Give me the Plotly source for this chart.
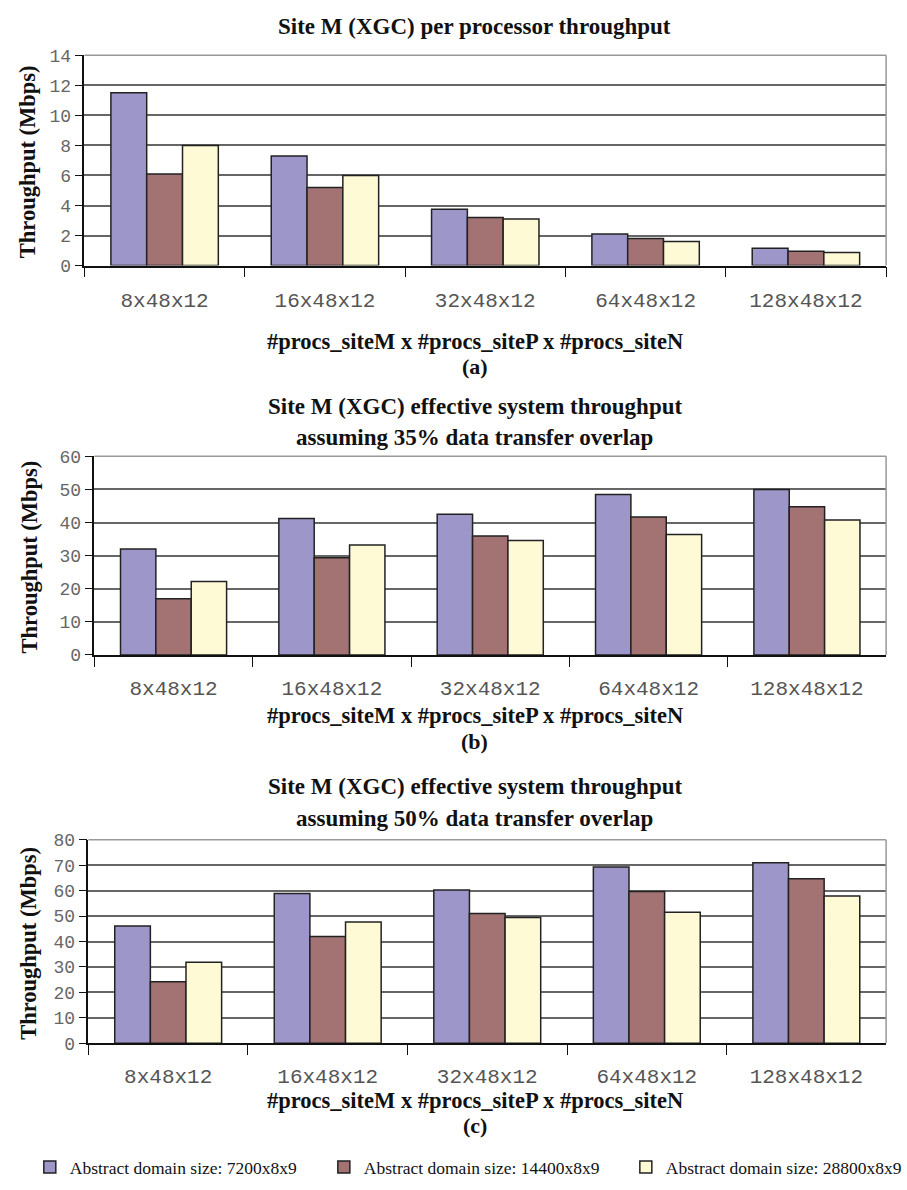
import plotly.graph_objects as go

# Processor layouts (siteM x siteP x siteN)
categories = ["8x48x12", "16x48x12", "32x48x12", "64x48x12", "128x48x12"]
series_names = [
    "Abstract domain size: 7200x8x9",
    "Abstract domain size: 14400x8x9",
    "Abstract domain size: 28800x8x9",
]

# (a) per processor throughput, Mbps
per_proc_7200 = [11.5, 7.3, 3.75, 2.1, 1.15]
per_proc_14400 = [6.1, 5.2, 3.2, 1.8, 0.95]
per_proc_28800 = [8.0, 6.0, 3.1, 1.6, 0.88]

# (b) effective system throughput, 35% overlap, Mbps
overlap35_7200 = [32.0, 41.2, 42.5, 48.5, 50.0]
overlap35_14400 = [17.0, 29.4, 35.9, 41.7, 44.8]
overlap35_28800 = [22.2, 33.2, 34.6, 36.4, 40.8]

# (c) effective system throughput, 50% overlap, Mbps
overlap50_7200 = [46.1, 58.9, 60.3, 69.3, 71.0]
overlap50_14400 = [24.2, 42.0, 51.0, 59.7, 64.7]
overlap50_28800 = [31.9, 47.7, 49.5, 51.5, 57.9]

y_ticks_a = [0, 2, 4, 6, 8, 10, 12, 14]
y_ticks_b = [0, 10, 20, 30, 40, 50, 60]
y_ticks_c = [0, 10, 20, 30, 40, 50, 60, 70, 80]

colors = ["#9C96C9", "#A37272", "#FFFAD6"]

W, H = 907, 1190
SERIF = "Liberation Serif"
MONO = "Liberation Mono"
TEXT_X = 478  # horizontal centre of the titles


def fy(px):
    return 1 - px / H


def fx(px):
    return px / W


panels = [
    dict(data=[per_proc_7200, per_proc_14400, per_proc_28800], ticks=y_ticks_a,
         x0=85, x1=892, top=47, bottom=261,
         title=["Site M (XGC) per processor throughput"], title_y=[18],
         cat_y=295, xtitle_y=338, tag="(a)", tag_y=364, ytitle=(28, 155)),
    dict(data=[overlap35_7200, overlap35_14400, overlap35_28800], ticks=y_ticks_b,
         x0=95, x1=892, top=455, bottom=657,
         title=["Site M (XGC) effective system throughput",
                "assuming 35% data transfer overlap"], title_y=[404, 436],
         cat_y=690, xtitle_y=719, tag="(b)", tag_y=745, ytitle=(30, 557)),
    dict(data=[overlap50_7200, overlap50_14400, overlap50_28800], ticks=y_ticks_c,
         x0=89, x1=892, top=845, bottom=1052,
         title=["Site M (XGC) effective system throughput",
                "assuming 50% data transfer overlap"], title_y=[791, 823],
         cat_y=1085, xtitle_y=1110, tag="(c)", tag_y=1136, ytitle=(28, 950)),
]

legend_names = ["legend", "legend2", "legend3"]
legend_x = [30, 326, 630]

fig = go.Figure()
annotations = []
shapes = []
layout_axes = {}


def bold(text, y, size=23, x=TEXT_X, angle=0):
    return dict(text="<b>" + text + "</b>", xref="paper", yref="paper",
                x=fx(x), y=fy(y), showarrow=False, textangle=angle,
                xanchor="center", yanchor="middle",
                font=dict(family=SERIF, size=size, color="#111111"))


for i, p in enumerate(panels):
    n = "" if i == 0 else str(i + 1)
    xa, ya = "x" + n, "y" + n
    for k, vals in enumerate(p["data"]):
        fig.add_trace(go.Bar(
            x=categories, y=vals, name=series_names[k],
            xaxis=xa, yaxis=ya,
            marker=dict(color=colors[k], line=dict(color="#222222", width=1.5)),
            legend=legend_names[k], showlegend=(i == 0),
        ))
    layout_axes["xaxis" + n] = dict(
        domain=[fx(p["x0"]), fx(p["x1"])], anchor=ya,
        type="category", categoryorder="array", categoryarray=categories,
        showline=True, linecolor="#111111", linewidth=1.5,
        ticks="outside", tickson="boundaries", ticklen=10, tickcolor="#111111",
        tickwidth=1.2, showgrid=False, zeroline=False,
        tickfont=dict(family=MONO, size=21, color="#555555"),
        ticklabelstandoff=p["cat_y"] - p["bottom"] - 20,
        fixedrange=True,
    )
    layout_axes["yaxis" + n] = dict(
        domain=[fy(p["bottom"]), fy(p["top"])], anchor=xa,
        range=[0, p["ticks"][-1]], tickvals=p["ticks"],
        showline=True, linecolor="#111111", linewidth=1.5,
        ticks="outside", ticklen=8, tickcolor="#111111", tickwidth=1.2,
        showgrid=True, gridcolor="#666666", gridwidth=1.5, zeroline=False,
        tickfont=dict(family=MONO, size=18, color="#666666"),
        fixedrange=True,
    )
    # light frame on the top and right of the plot area
    shapes.append(dict(type="line", xref=xa + " domain", yref=ya + " domain",
                       x0=1, x1=1, y0=0, y1=1,
                       line=dict(color="#999999", width=1.5)))
    shapes.append(dict(type="line", xref=xa + " domain", yref=ya + " domain",
                       x0=0, x1=1, y0=1, y1=1,
                       line=dict(color="#999999", width=1.5)))
    for line, ty in zip(p["title"], p["title_y"]):
        annotations.append(bold(line, ty))
    annotations.append(bold("#procs_siteM x #procs_siteP x #procs_siteN", p["xtitle_y"], size=22.5))
    annotations.append(bold(p["tag"], p["tag_y"], size=22))
    annotations.append(bold("Throughput (Mbps)", p["ytitle"][1], size=22.5,
                            x=p["ytitle"][0], angle=-90))

legends = {}
for name, lx in zip(legend_names, legend_x):
    legends[name] = dict(orientation="h", x=fx(lx), y=fy(1178),
                         xanchor="left", yanchor="middle",
                         font=dict(family=SERIF, size=17.5, color="#111111"),
                         itemwidth=30, bgcolor="rgba(0,0,0,0)")

fig.update_layout(
    width=W, height=H,
    margin=dict(l=0, r=0, t=0, b=0),
    paper_bgcolor="white", plot_bgcolor="white",
    barmode="group", bargap=0.33, bargroupgap=0,
    annotations=annotations, shapes=shapes,
    **legends,
    **layout_axes,
)

fig.write_html("out.html")
